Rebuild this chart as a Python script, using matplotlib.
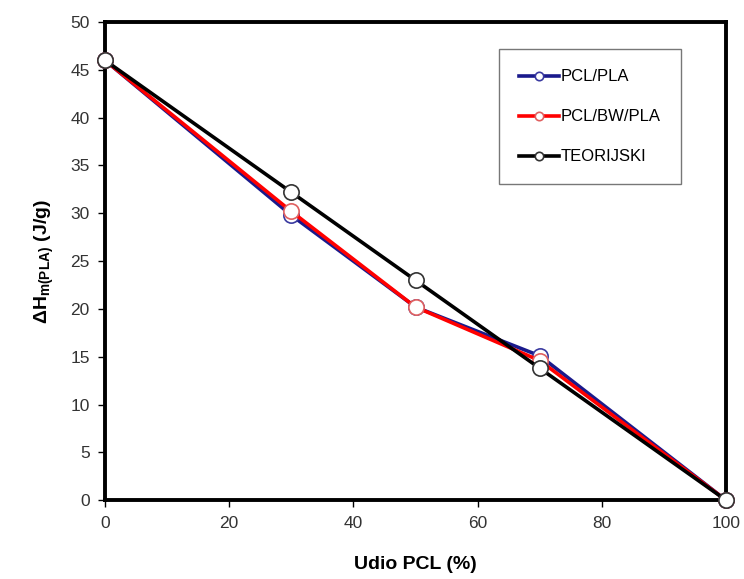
import matplotlib
matplotlib.use("Agg")
import matplotlib.pyplot as plt

plt.rcParams["font.family"] = ["Liberation Sans", "DejaVu Sans"]
plt.rcParams["mathtext.fontset"] = "custom"
plt.rcParams["mathtext.rm"] = "Liberation Sans"
plt.rcParams["mathtext.bf"] = "Liberation Sans:bold"

# data
udio_pcl = [0, 30, 50, 70, 100]
pcl_pla = [46.0, 29.8, 20.2, 15.1, 0.0]
pcl_bw_pla = [46.0, 30.2, 20.2, 14.6, 0.0]
teorijski = [46.0, 32.2, 23.0, 13.8, 0.0]

series = [
    ("PCL/PLA", pcl_pla, "#1a1a8c", "#3a3aa0"),
    ("PCL/BW/PLA", pcl_bw_pla, "#ff0000", "#e06060"),
    ("TEORIJSKI", teorijski, "black", "#333333"),
]

fig = plt.figure(figsize=(7.44, 5.79), dpi=100)
ax = fig.add_axes([0.141, 0.136, 0.835, 0.826])

for name, vals, col, edge in series:
    ax.plot(udio_pcl, vals, "-o", color=col, linewidth=2.6, markersize=11,
            markerfacecolor="white", markeredgecolor=edge,
            markeredgewidth=1.2, label=name, clip_on=False, zorder=3)

ax.set_xlim(0, 100)
ax.set_ylim(0, 50)
ax.set_xticks(range(0, 101, 20))
ax.set_yticks(range(0, 51, 5))
ax.tick_params(direction="out", length=5, width=1, labelsize=12.5, pad=6,
               labelcolor="#333333")
for s in ax.spines.values():
    s.set_linewidth(2.8)

ax.set_xlabel("Udio PCL (%)", fontsize=14, fontweight="bold", labelpad=18)
ax.set_ylabel(r"$\mathbf{\Delta H_{m(PLA)}}$ (J/g)", fontsize=14,
              fontweight="bold", labelpad=10)

leg = ax.legend(loc="upper right", bbox_to_anchor=(0.94, 0.96), fontsize=12,
                markerscale=0.55, handlelength=2.4, labelspacing=1.5,
                borderpad=1.2, fancybox=False, frameon=True,
                handletextpad=0.1)
leg.get_frame().set_edgecolor("#555555")
leg.get_frame().set_linewidth(1.0)

fig.savefig("out.png", dpi=100)
